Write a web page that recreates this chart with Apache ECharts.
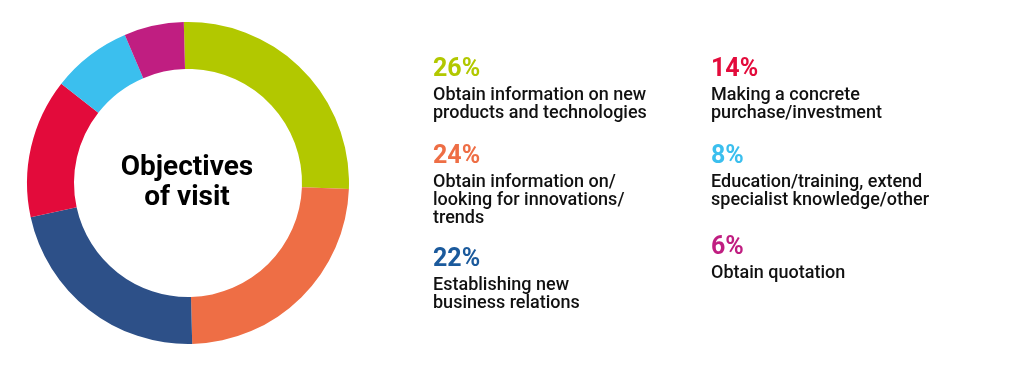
<!DOCTYPE html>
<html>
<head>
<meta charset="utf-8">
<script src="https://cdn.jsdelivr.net/npm/echarts@6/dist/echarts.min.js"></script>
<style>
html, body { margin: 0; padding: 0; background: #fff; }
#chart { width: 1024px; height: 366px; }
</style>
</head>
<body>
<div id="chart"></div>
<script>
// objectives of visit, share of respondents in %
var categories = [
	'Obtain information on new\nproducts and technologies',
	'Obtain information on/\nlooking for innovations/\ntrends',
	'Establishing new\nbusiness relations',
	'Making a concrete\npurchase/investment',
	'Education/training, extend\nspecialist knowledge/other',
	'Obtain quotation'
];
var shares = [26, 24, 22, 14, 8, 6];
var colors = ['#b2c800', '#ee6e45', '#2d5088', '#e30b3b', '#3bbfee', '#c01e81'];
var pctColors = ['#b2c800', '#ee6e45', '#1b5a9c', '#e30b3b', '#3bbfee', '#c01e81'];
var centerTitle = 'Objectives\nof visit';

var chart = echarts.init(document.getElementById('chart'));

var pieData = [];
var rich = {
	lbl: { fontFamily: 'Roboto', fontWeight: 500, fontSize: 18, lineHeight: 18, color: '#111' }
};
for (var i = 0; i < categories.length; i++) {
	pieData.push({ name: categories[i], value: shares[i], itemStyle: { color: colors[i] } });
	rich['p' + i] = { fontFamily: 'Roboto', fontWeight: 'bold', fontSize: 25, lineHeight: 33, color: pctColors[i] };
}

function legendText(name) {
	var idx = categories.indexOf(name);
	var lines = name.split('\n').map(function (l) { return '{lbl|' + l + '}'; });
	return '{p' + idx + '|' + shares[idx] + '%}\n' + lines.join('\n');
}

// one legend block per entry, laid out in two columns
var legendLeft = [428, 428, 428, 706, 706, 706];
var legendTop = [57, 144, 247, 57, 144, 235];
var legends = categories.map(function (name, k) {
	return {
		data: [name],
		orient: 'vertical',
		left: legendLeft[k],
		top: legendTop[k],
		padding: 0,
		itemWidth: 0,
		itemHeight: 0,
		icon: 'rect',
		selectedMode: false,
		formatter: legendText,
		textStyle: { rich: rich }
	};
});

var option = {
	animation: false,
	legend: legends,
	graphic: [{
		type: 'text',
		x: 187,
		y: 183,
		style: {
			text: centerTitle,
			textAlign: 'center',
			textVerticalAlign: 'middle',
			fontFamily: 'Roboto',
			fontWeight: 'bold',
			fontSize: 28,
			lineHeight: 30,
			fill: '#000'
		}
	}],
	series: [{
		type: 'pie',
		center: [188, 183],
		radius: [114, 161],
		startAngle: 91.5,
		clockwise: true,
		label: { show: false },
		labelLine: { show: false },
		emphasis: { disabled: true },
		data: pieData
	}]
};
chart.setOption(option);
</script>
</body>
</html>
